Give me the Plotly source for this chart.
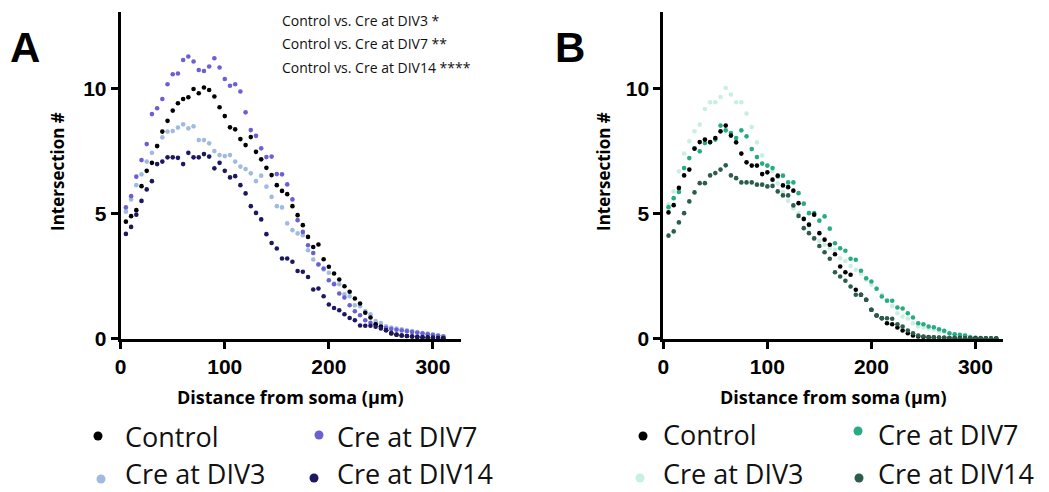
import plotly.graph_objects as go

# ---------------- data ----------------
dist_a = list(range(5, 315, 5))   # 5..310 µm
dist_b = list(range(5, 325, 5))   # 5..320 µm

a_control = [4.67, 4.89, 5.13, 6.09, 6.70, 7.02, 7.69, 8.27, 8.70, 9.11,
             9.40, 9.57, 9.64, 9.97, 9.80, 10.03, 9.93, 9.67, 9.24, 8.89,
             8.44, 8.36, 7.97, 7.73, 8.05, 7.46, 7.16, 6.82, 6.53, 6.13,
             5.90, 5.77, 5.29, 4.93, 4.53, 4.06, 3.66, 3.76, 3.17, 2.87,
             2.60, 2.36, 2.09, 1.87, 1.60, 1.40, 1.03, 0.84, 0.57, 0.47,
             0.33, 0.20, 0.15, 0.12, 0.10, 0.08, 0.06, 0.05, 0.04, 0.03,
             0.02, 0.01]
a_div3 = [5.07, 5.56, 6.13, 6.56, 7.07, 7.42, 7.70, 8.04, 8.27, 8.29,
          8.43, 8.56, 8.40, 8.48, 7.93, 7.93, 7.80, 7.49, 7.33, 7.29,
          7.33, 7.07, 6.87, 6.77, 6.60, 6.29, 6.51, 6.07, 5.66, 5.29,
          5.24, 4.60, 4.33, 4.20, 4.13, 3.53, 3.16, 2.97, 2.76, 2.63,
          2.20, 2.17, 1.77, 1.69, 1.33, 1.29, 1.10, 0.97, 0.70, 0.62,
          0.49, 0.44, 0.40, 0.37, 0.33, 0.30, 0.26, 0.22, 0.20, 0.17,
          0.13, 0.09]
a_div7 = [5.24, 5.69, 6.47, 7.13, 7.77, 8.97, 9.20, 9.57, 10.16, 10.56,
          10.59, 11.13, 11.27, 11.07, 10.73, 10.69, 10.87, 11.20, 10.83, 10.37,
          10.10, 10.16, 9.87, 9.04, 8.33, 8.10, 7.60, 7.25, 7.27, 6.57,
          6.56, 6.16, 5.56, 4.73, 4.26, 3.73, 3.42, 2.96, 2.80, 2.33,
          2.17, 1.80, 1.64, 1.33, 1.09, 0.93, 0.73, 0.63, 0.57, 0.49,
          0.42, 0.38, 0.35, 0.32, 0.29, 0.26, 0.23, 0.20, 0.17, 0.14,
          0.11, 0.08]
a_div14 = [4.18, 4.46, 4.95, 5.50, 5.96, 6.29, 6.97, 7.07, 7.24, 7.24,
           7.22, 6.97, 7.42, 7.24, 7.24, 7.37, 7.27, 6.80, 7.02, 6.70,
           6.44, 6.49, 6.13, 5.80, 5.29, 5.02, 4.76, 4.17, 3.82, 3.60,
           3.20, 3.20, 3.07, 2.70, 2.67, 2.46, 1.96, 2.00, 1.69, 1.36,
           1.22, 1.13, 0.97, 0.82, 0.73, 0.52, 0.51, 0.51, 0.47, 0.40,
           0.33, 0.22, 0.16, 0.12, 0.10, 0.08, 0.06, 0.05, 0.04, 0.03,
           0.02, 0.01]

b_control = [5.04, 5.33, 6.02, 6.52, 6.75, 7.59, 7.85, 7.95, 7.85, 8.01,
             8.28, 8.51, 8.11, 7.84, 7.39, 7.04, 6.91, 6.91, 6.57, 6.64,
             6.35, 6.51, 6.12, 6.05, 5.91, 5.41, 4.78, 4.55, 4.95, 4.21,
             3.95, 3.75, 3.37, 2.88, 2.65, 2.55, 1.95, 1.75, 1.55, 1.15,
             0.92, 0.81, 0.61, 0.57, 0.44, 0.32, 0.21, 0.12, 0.08, 0.06,
             0.05, 0.04, 0.03, 0.03, 0.02, 0.02, 0.02, 0.01, 0.01, 0.01,
             0.0, 0.0, 0.0, 0.0]
b_div3 = [5.36, 5.88, 6.68, 7.39, 7.88, 8.28, 8.55, 9.17, 9.44, 9.44,
          9.65, 10.01, 9.75, 9.44, 9.44, 8.99, 8.45, 7.84, 7.31, 6.91,
          6.68, 6.20, 5.85, 5.50, 5.20, 5.00, 4.75, 4.50, 4.00, 3.90,
          3.75, 3.61, 3.55, 3.21, 3.10, 2.90, 2.75, 2.60, 2.35, 2.15,
          2.01, 1.75, 1.55, 1.30, 1.01, 0.88, 0.80, 0.61, 0.48, 0.44,
          0.40, 0.35, 0.28, 0.25, 0.20, 0.18, 0.15, 0.12, 0.08, 0.05,
          0.03, 0.02, 0.01, 0.0]
b_div7 = [5.25, 5.61, 5.86, 6.81, 7.21, 7.59, 7.48, 7.81, 7.84, 7.95,
          8.51, 8.32, 8.21, 8.01, 8.32, 8.08, 7.57, 7.25, 6.99, 6.91,
          6.81, 6.48, 6.51, 6.24, 6.24, 5.81, 5.39, 5.01, 5.01, 4.71,
          4.88, 4.39, 3.81, 3.61, 3.51, 3.19, 3.15, 2.71, 2.41, 2.28,
          1.99, 1.68, 1.51, 1.51, 1.24, 1.20, 1.01, 0.84, 0.61, 0.57,
          0.48, 0.45, 0.37, 0.31, 0.21, 0.17, 0.15, 0.12, 0.05, 0.03,
          0.02, 0.01, 0.0, 0.0]
b_div14 = [4.11, 4.28, 4.64, 5.01, 5.48, 5.84, 6.21, 6.21, 6.52, 6.61,
           6.75, 6.92, 6.52, 6.41, 6.24, 6.24, 6.24, 6.15, 6.15, 6.08,
           6.10, 5.88, 5.72, 5.72, 5.32, 4.90, 4.41, 4.21, 4.00, 3.70,
           3.45, 3.19, 2.65, 2.48, 2.31, 2.08, 1.75, 1.75, 1.55, 1.15,
           0.92, 0.81, 0.81, 0.79, 0.57, 0.48, 0.32, 0.21, 0.12, 0.08,
           0.06, 0.05, 0.04, 0.03, 0.02, 0.02, 0.01, 0.01, 0.01, 0.0,
           0.0, 0.0, 0.0, 0.0]

series_names = ["Control", "Cre at DIV3", "Cre at DIV7", "Cre at DIV14"]
colors_a = ["#000000", "#9fbbe0", "#6a60d4", "#1b1860"]
colors_b = ["#000000", "#c8efe0", "#27ab83", "#2b5c4c"]
x_ticks = [0, 100, 200, 300]
y_ticks = [0, 5, 10]
stats_lines = ["Control vs. Cre at DIV3 *", "Control vs. Cre at DIV7 **",
               "Control vs. Cre at DIV14 ****"]

# ---------------- figure ----------------
# the page body has an 8 px margin, so the figure is 8 px smaller than the
# window and positions below are given in window pixels, shifted by OFF.
OFF = 8
W, H = 1049 - OFF, 492 - OFF
fig = go.Figure()


def px(x):
    return (x - OFF) / W


def py(y):
    return 1 - (y - OFF) / H


vals_a = [a_control, a_div3, a_div7, a_div14]
vals_b = [b_control, b_div3, b_div7, b_div14]
draw_order = [1, 2, 0, 3]
for i in draw_order:
    fig.add_trace(go.Scatter(x=dist_a, y=vals_a[i], mode="markers", name=series_names[i],
                             marker=dict(color=colors_a[i], size=4.6), showlegend=False,
                             xaxis="x", yaxis="y", cliponaxis=False))
for i in draw_order:
    fig.add_trace(go.Scatter(x=dist_b, y=vals_b[i], mode="markers", name=series_names[i],
                             marker=dict(color=colors_b[i], size=4.6), showlegend=False,
                             xaxis="x2", yaxis="y2", cliponaxis=False))

y_dom = [py(338.5), py(12)]
axis_common = dict(showline=True, linecolor="black", linewidth=3, ticks="outside",
                   ticklen=7, tickwidth=3, tickcolor="black", showgrid=False,
                   zeroline=False, automargin=False,
                   tickfont=dict(family="Liberation Sans", size=21, color="black", weight="bold"))
fig.update_layout(
    width=W, height=H, autosize=False,
    margin=dict(l=0, r=0, t=0, b=0, autoexpand=False),
    paper_bgcolor="white", plot_bgcolor="white",
    xaxis=dict(domain=[px(120.7), px(460.5)], range=[0, 326.5], tickvals=x_ticks,
               anchor="y", **axis_common),
    yaxis=dict(domain=y_dom, range=[0, 13.05], tickvals=y_ticks, anchor="x", **axis_common),
    xaxis2=dict(domain=[px(663.3), px(1002.5)], range=[0, 326], tickvals=x_ticks,
                anchor="y2", **axis_common),
    yaxis2=dict(domain=y_dom, range=[0, 13.05], tickvals=y_ticks, anchor="x2", **axis_common),
)

ann = []
title_font = dict(family="Open Sans", size=18, color="black", weight="bold")
# axis titles
ann.append(dict(text="Distance from soma (μm)", x=px(290), y=py(397), xref="paper", yref="paper",
                showarrow=False, font=title_font, xanchor="center", yanchor="middle"))
ann.append(dict(text="Distance from soma (μm)", x=px(833), y=py(397), xref="paper", yref="paper",
                showarrow=False, font=title_font, xanchor="center", yanchor="middle"))
ann.append(dict(text="Intersection #", x=px(57), y=py(172), xref="paper", yref="paper",
                showarrow=False, font=dict(family="Open Sans", size=17, color="black", weight="bold"),
                textangle=-90, xanchor="center", yanchor="middle"))
ann.append(dict(text="Intersection #", x=px(603), y=py(172), xref="paper", yref="paper",
                showarrow=False, font=dict(family="Open Sans", size=17, color="black", weight="bold"),
                textangle=-90, xanchor="center", yanchor="middle"))
# panel labels
for lab, cx in (("A", 25), ("B", 570)):
    ann.append(dict(text=lab, x=px(cx), y=py(47), xref="paper", yref="paper", showarrow=False,
                    font=dict(family="Liberation Sans", size=42, color="black", weight="bold"),
                    xanchor="center", yanchor="middle"))
# stats text
for k, line in enumerate(stats_lines):
    ann.append(dict(text=line, x=px(280), y=py(20.5 + 23.5 * k), xref="paper", yref="paper",
                    showarrow=False, font=dict(family="Open Sans", size=14, color="#111111"),
                    xanchor="left", yanchor="middle"))

# legends (two columns under each panel)
shapes = []
leg_font = dict(family="Open Sans", size=27, color="#111111")
leg_a = [  # (series index, dot x, dot y, text x, text y)
    (0, 98, 436, 123, 436), (2, 319, 435, 335, 436),
    (1, 101, 479, 123, 473), (3, 314, 478, 335, 473)]
leg_b = [
    (0, 643, 436, 661, 434), (2, 858, 431, 876, 434),
    (1, 640, 478, 661, 473), (3, 859, 478, 876, 473)]
for legs, cols in ((leg_a, colors_a), (leg_b, colors_b)):
    for i, dx, dy, tx, ty in legs:
        r = 4.5
        shapes.append(dict(type="circle", xref="paper", yref="paper",
                           x0=px(dx - r), x1=px(dx + r), y0=py(dy + r), y1=py(dy - r),
                           fillcolor=cols[i], line=dict(width=0)))
        ann.append(dict(text=series_names[i], x=px(tx), y=py(ty), xref="paper", yref="paper",
                        showarrow=False, font=leg_font, xanchor="left", yanchor="middle"))

fig.update_layout(annotations=ann, shapes=shapes)
fig.write_html("out.html")
